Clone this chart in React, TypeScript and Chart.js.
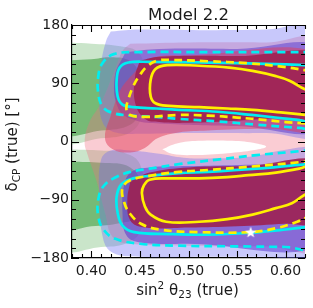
import React, { useEffect, useRef } from 'react';
import { Chart, registerables } from 'chart.js';

Chart.register(...registerables);

type P = [number, number];

// axis values
const X_RANGE: P = [0.38, 0.62];
const Y_RANGE: P = [-180, 180];
const X_TICKS = [0.4, 0.45, 0.5, 0.55, 0.6];
const Y_TICKS = [-180, -90, 0, 90, 180];
const TITLE = 'Model 2.2';

// filled allowed regions (sin^2 theta23, deltaCP)
const GREEN_OUTER_UP: P[] = [[0.37, 153], [0.40, 151], [0.43, 147], [0.448, 138], [0.455, 110], [0.452, 40], [0.44, 14], [0.41, 5], [0.37, 3], [0.37, 153]];
const GREEN_OUTER_LO: P[] = [[0.37, -12], [0.41, -14], [0.435, -18], [0.45, -35], [0.455, -90], [0.45, -140], [0.435, -158], [0.41, -163], [0.37, -164], [0.37, -12]];
const GREEN_INNER_UP: P[] = [[0.37, 125], [0.40, 127], [0.42, 130], [0.44, 124], [0.45, 100], [0.45, 50], [0.44, 26], [0.41, 17], [0.37, 15], [0.37, 125]];
const GREEN_INNER_LO: P[] = [[0.37, -31], [0.41, -33], [0.44, -40], [0.452, -70], [0.448, -115], [0.43, -126], [0.40, -131], [0.37, -133], [0.37, -31]];
const RED_OUTER: P[] = [[0.44, 151], [0.50, 153], [0.58, 153], [0.64, 152], [0.64, -162], [0.58, -162], [0.50, -161], [0.44, -158], [0.422, -148], [0.414, -110], [0.405, -60], [0.396, -20], [0.393, 0], [0.398, 30], [0.41, 60], [0.424, 110], [0.432, 140], [0.44, 151]];
const BLUE_OUTER_UP: P[] = [[0.42, 170], [0.45, 173], [0.52, 172], [0.58, 173], [0.64, 175], [0.64, 14], [0.58, 13], [0.50, 13], [0.45, 12], [0.425, 14], [0.412, 28], [0.408, 70], [0.41, 120], [0.415, 155], [0.42, 170]];
const BLUE_OUTER_LO: P[] = [[0.64, -6], [0.62, -8], [0.595, -14], [0.565, -23], [0.53, -26], [0.495, -25], [0.47, -19], [0.44, -14], [0.42, -14], [0.41, -28], [0.408, -80], [0.412, -150], [0.422, -172], [0.45, -178], [0.52, -178], [0.58, -178], [0.64, -178], [0.64, -6]];
const EMPTY_CORE: P[] = [[0.473, -12], [0.488, -3], [0.51, 1], [0.545, 1], [0.57, -3], [0.58, -8], [0.568, -13], [0.54, -18], [0.505, -21], [0.483, -19], [0.473, -12]];
const BLUE_MID_UP: P[] = [[0.435, 138], [0.47, 143], [0.55, 143], [0.64, 142], [0.64, 22], [0.55, 24], [0.47, 28], [0.445, 33], [0.428, 50], [0.424, 100], [0.435, 138]];
const BLUE_MID_LO: P[] = [[0.64, -32], [0.58, -35], [0.50, -38], [0.46, -40], [0.442, -46], [0.434, -65], [0.432, -110], [0.436, -145], [0.45, -156], [0.50, -158], [0.64, -157], [0.64, -32]];
const RED_MID: P[] = [[0.44, 100], [0.46, 128], [0.50, 133], [0.64, 132], [0.64, 22], [0.58, 20], [0.52, 17], [0.49, 14], [0.468, 5], [0.455, -10], [0.44, -17], [0.422, -12], [0.414, 5], [0.42, 40], [0.43, 80], [0.44, 100]];
const RED_INNER_UP: P[] = [[0.45, 125], [0.47, 131], [0.55, 132], [0.64, 131], [0.64, 38], [0.60, 37], [0.55, 32], [0.50, 29], [0.47, 30], [0.455, 35], [0.445, 60], [0.445, 100], [0.45, 125]];
const RED_INNER_LO: P[] = [[0.44, -62], [0.46, -48], [0.50, -40], [0.56, -38], [0.64, -34], [0.64, -124], [0.60, -127], [0.55, -131], [0.50, -133], [0.455, -133], [0.44, -122], [0.437, -90], [0.44, -62]];

// contour lines
const YELLOW_SOLID_UP: P[] = [[0.64, 72], [0.621, 80], [0.604, 94], [0.59, 101], [0.566, 109], [0.542, 114], [0.511, 117], [0.478, 118], [0.466, 112], [0.461, 95], [0.461, 70], [0.466, 59], [0.48, 55], [0.511, 53], [0.54, 51], [0.566, 49], [0.595, 45], [0.621, 41], [0.64, 38], [0.64, 72]];
const YELLOW_SOLID_LO: P[] = [[0.64, -35], [0.621, -39], [0.614, -42], [0.59, -48], [0.562, -52], [0.54, -55], [0.511, -57], [0.48, -57], [0.46, -59], [0.454, -68], [0.452, -80], [0.455, -100], [0.461, -113], [0.477, -124], [0.511, -124], [0.54, -120], [0.566, -113], [0.59, -103], [0.607, -95], [0.619, -83], [0.64, -70], [0.64, -35]];
const YELLOW_DASH_UP: P[] = [[0.64, 108], [0.621, 110], [0.60, 115], [0.56, 121], [0.52, 124], [0.48, 126], [0.468, 125], [0.458, 117], [0.45, 103], [0.443, 85], [0.438, 65], [0.436, 50], [0.44, 41], [0.455, 38], [0.49, 41], [0.52, 40], [0.55, 37], [0.58, 33], [0.60, 30], [0.621, 28], [0.64, 26], [0.64, 108]];
const YELLOW_DASH_LO: P[] = [[0.64, -27], [0.614, -32], [0.57, -38], [0.52, -44], [0.49, -47], [0.46, -53], [0.44, -60], [0.432, -72], [0.434, -95], [0.44, -112], [0.451, -127], [0.47, -136], [0.51, -140], [0.564, -140], [0.59, -134], [0.612, -124], [0.621, -118], [0.64, -108], [0.64, -27]];
const CYAN_SOLID_UP: P[] = [[0.64, 117], [0.621, 118], [0.58, 120], [0.52, 122], [0.46, 123], [0.438, 122], [0.429, 114], [0.426, 95], [0.427, 70], [0.432, 57], [0.443, 53], [0.467, 51], [0.49, 49], [0.53, 46], [0.565, 41], [0.614, 33], [0.64, 29], [0.64, 117]];
const CYAN_SOLID_LO: P[] = [[0.64, -33], [0.614, -36], [0.57, -42], [0.52, -47], [0.49, -49], [0.46, -53], [0.443, -57], [0.431, -66], [0.426, -85], [0.427, -110], [0.432, -130], [0.444, -140], [0.48, -143], [0.52, -144], [0.564, -141], [0.60, -136], [0.621, -132], [0.64, -129], [0.64, -33]];
const CYAN_DASH_UP: P[] = [[0.64, 138], [0.60, 138], [0.52, 138], [0.45, 138], [0.423, 135], [0.411, 120], [0.407, 100], [0.407, 75], [0.411, 55], [0.42, 45], [0.44, 40], [0.467, 38], [0.49, 35], [0.53, 31], [0.57, 26], [0.614, 21], [0.64, 18], [0.64, 138]];
const CYAN_DASH_LO: P[] = [[0.64, -10], [0.614, -15], [0.57, -21], [0.53, -28], [0.49, -35], [0.46, -42], [0.44, -47], [0.424, -56], [0.412, -70], [0.407, -90], [0.407, -115], [0.412, -135], [0.424, -150], [0.45, -158], [0.49, -161], [0.55, -162], [0.60, -163], [0.64, -164], [0.64, -10]];

const BEST_FIT: P[] = [[0.564, -140]];

const FONT = '"DejaVu Sans", sans-serif';

const pts = (a: P[]) => a.map(([x, y]) => ({ x, y }));

function region(data: P[], color: string) {
  return {
    data: pts(data), showLine: true, fill: 'shape', backgroundColor: color,
    borderColor: 'rgba(0,0,0,0)', borderWidth: 0, pointRadius: 0, tension: 0.4, clip: 0,
  };
}
function contour(data: P[], color: string, dashed: boolean) {
  return {
    data: pts(data), showLine: true, fill: false, borderColor: color,
    borderWidth: 2.7, borderDash: dashed ? [8, 5] : [], borderJoinStyle: 'round',
    pointRadius: 0, tension: 0.4, clip: 0,
  };
}

type Part = { t: string; size: number; dy?: number };
function drawRich(ctx: CanvasRenderingContext2D, parts: Part[], cx: number, cy: number) {
  let total = 0;
  const ws = parts.map((p) => { ctx.font = `${p.size}px ${FONT}`; const w = ctx.measureText(p.t).width; total += w; return w; });
  let x = cx - total / 2;
  ctx.textAlign = 'left';
  ctx.textBaseline = 'alphabetic';
  parts.forEach((p, i) => { ctx.font = `${p.size}px ${FONT}`; ctx.fillText(p.t, x, cy + (p.dy || 0)); x += ws[i]; });
}

const decor = {
  id: 'decor',
  afterDraw(chart: any) {
    const { ctx, chartArea: a, scales } = chart;
    const xs = scales.x, ys = scales.y;
    ctx.save();
    ctx.strokeStyle = '#000';
    ctx.lineWidth = 1.1;
    ctx.beginPath();
    ctx.moveTo(a.left, a.top + 0.5); ctx.lineTo(a.right, a.top + 0.5);
    for (let v = 38; v <= 62; v++) {
      const px = Math.round(xs.getPixelForValue(v / 100)) + 0.5;
      const L = v % 5 === 0 ? 7 : 4;
      ctx.moveTo(px, a.bottom); ctx.lineTo(px, a.bottom - L);
      ctx.moveTo(px, a.top); ctx.lineTo(px, a.top + L);
    }
    for (let v = -180; v <= 180; v += 15) {
      const py = Math.round(ys.getPixelForValue(v)) + 0.5;
      const L = v % 90 === 0 ? 7 : 4;
      ctx.moveTo(a.left, py); ctx.lineTo(a.left + L, py);
      ctx.moveTo(a.right, py); ctx.lineTo(a.right - L, py);
    }
    ctx.stroke();

    ctx.fillStyle = '#1a1a1a';
    const cx = (a.left + a.right) / 2;
    drawRich(ctx, [{ t: TITLE, size: 16.5 }], cx, 19.5);
    drawRich(ctx, [
      { t: 'sin', size: 15 }, { t: '2', size: 10.5, dy: -6.5 }, { t: ' \u03b8', size: 15 },
      { t: '23', size: 10.5, dy: 3 }, { t: ' (true)', size: 15 },
    ], cx - 1, 295);
    ctx.translate(17, (a.top + a.bottom) / 2 + 3);
    ctx.rotate(-Math.PI / 2);
    drawRich(ctx, [
      { t: '\u03b4', size: 15 }, { t: 'CP', size: 10.5, dy: 3 }, { t: ' (true) [\u00b0]', size: 15 },
    ], 0, 0);
    ctx.restore();
  },
};

export default function App() {
  const ref = useRef<HTMLCanvasElement | null>(null);
  useEffect(() => {
    if (!ref.current) return;
    const star = document.createElement('canvas');
    star.width = 14; star.height = 14;
    const sc = star.getContext('2d')!;
    sc.fillStyle = '#ffffff';
    sc.beginPath();
    for (let i = 0; i < 10; i++) {
      const r = i % 2 === 0 ? 6 : 2.5;
      const ang = -Math.PI / 2 + (i * Math.PI) / 5;
      const px = 7 + r * Math.cos(ang), py = 7.5 + r * Math.sin(ang);
      if (i === 0) sc.moveTo(px, py); else sc.lineTo(px, py);
    }
    sc.closePath(); sc.fill();

    const layers: any[] = [
      region(GREEN_OUTER_UP, 'rgba(80,170,80,0.3)'),
      region(GREEN_OUTER_LO, 'rgba(80,170,80,0.3)'),
      region(GREEN_INNER_UP, 'rgba(50,150,50,0.55)'),
      region(GREEN_INNER_LO, 'rgba(50,150,50,0.55)'),
      region(RED_OUTER, 'rgba(240,110,130,0.35)'),
      region(BLUE_OUTER_UP, 'rgba(110,110,245,0.38)'),
      region(BLUE_OUTER_LO, 'rgba(110,110,245,0.38)'),
      region(EMPTY_CORE, '#ffffff'),
      region(BLUE_MID_UP, 'rgba(85,55,205,0.5)'),
      region(BLUE_MID_LO, 'rgba(85,55,205,0.55)'),
      region(RED_MID, 'rgba(225,60,90,0.5)'),
      region(RED_INNER_UP, 'rgba(158,32,80,0.88)'),
      region(RED_INNER_LO, 'rgba(158,32,80,0.88)'),
      contour(CYAN_DASH_UP, '#00eef2', true),
      contour(CYAN_DASH_LO, '#00eef2', true),
      contour(CYAN_SOLID_UP, '#00eef2', false),
      contour(CYAN_SOLID_LO, '#00eef2', false),
      contour(YELLOW_DASH_UP, '#fff000', true),
      contour(YELLOW_DASH_LO, '#fff000', true),
      contour(YELLOW_SOLID_UP, '#fff000', false),
      contour(YELLOW_SOLID_LO, '#fff000', false),
      { data: pts(BEST_FIT), showLine: false, pointStyle: star, pointRadius: 7, clip: false },
    ];
    layers.forEach((d, i) => { d.order = -i; });

    const chart = new Chart(ref.current, {
      type: 'scatter',
      data: { datasets: layers },
      options: {
        responsive: false,
        animation: false,
        events: [],
        devicePixelRatio: 1,
        layout: { padding: { left: 0, top: 25, right: 6, bottom: 0 } },
        elements: { line: { capBezierPoints: false } },
        plugins: { legend: { display: false }, tooltip: { enabled: false }, title: { display: false } },
        scales: {
          x: {
            type: 'linear', min: X_RANGE[0], max: X_RANGE[1],
            grid: { display: false, drawTicks: false },
            border: { display: true, color: '#000', width: 1.2 },
            afterBuildTicks: (s: any) => { s.ticks = X_TICKS.map((value) => ({ value })); },
            afterFit: (s: any) => { s.height = 50; },
            ticks: { padding: 5, color: '#1a1a1a', font: { family: FONT, size: 14 }, autoSkip: false, maxRotation: 0, callback: (v: any) => Number(v).toFixed(2) },
          },
          y: {
            type: 'linear', min: Y_RANGE[0], max: Y_RANGE[1],
            grid: { display: false, drawTicks: false },
            border: { display: true, color: '#000', width: 1.2 },
            afterBuildTicks: (s: any) => { s.ticks = Y_TICKS.map((value) => ({ value })); },
            afterFit: (s: any) => { s.width = 72; },
            ticks: { padding: 3, color: '#1a1a1a', font: { family: FONT, size: 14 }, autoSkip: false, callback: (v: any) => (v < 0 ? '\u2212' + Math.abs(v) : String(v)) },
          },
        },
      },
      plugins: [decor],
    } as any);
    return () => chart.destroy();
  }, []);
  return (
    <div style={{ position: 'fixed', left: 0, top: 0, width: 313, height: 308, background: '#fff' }}>
      <canvas ref={ref} width={313} height={308} style={{ display: 'block' }} />
    </div>
  );
}
